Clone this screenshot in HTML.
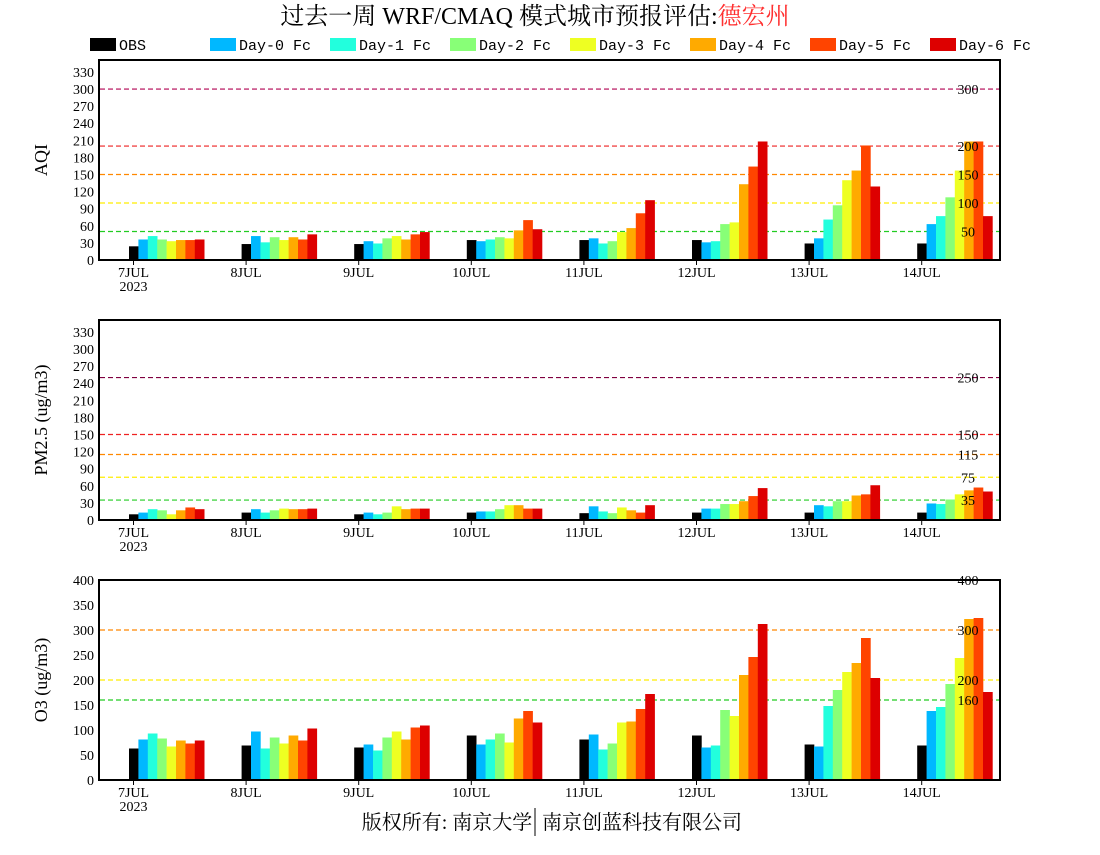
<!DOCTYPE html>
<html><head><meta charset="utf-8">
<style>
html,body{margin:0;padding:0;background:#fff;}
svg text{font-family:"Liberation Serif","Noto Serif CJK SC",serif;}
</style></head>
<body>
<svg id="c" width="1100" height="850" xmlns="http://www.w3.org/2000/svg">
<text x="535" y="24" text-anchor="middle" font-size="24" fill="#000">过去一周 WRF/CMAQ 模式城市预报评估:<tspan fill="#ff3030">德宏州</tspan></text>
<g id="legend"></g>
<g id="panels"></g>
<text x="447" y="829" text-anchor="middle" font-size="20">版权所有: 南京大学</text>
<line x1="535" y1="808" x2="535" y2="836" stroke="#000" stroke-width="1"></line>
<text x="642" y="829" text-anchor="middle" font-size="20">南京创蓝科技有限公司</text>
</svg>
<script>
const series = ["OBS","Day-0 Fc","Day-1 Fc","Day-2 Fc","Day-3 Fc","Day-4 Fc","Day-5 Fc","Day-6 Fc"];
const colors = ["#000000","#00b8ff","#22ffdd","#88ff77","#eeff22","#ffaa00","#ff4400","#dd0000"];
const days = ["7JUL","8JUL","9JUL","10JUL","11JUL","12JUL","13JUL","14JUL"];
const aqiObs = [24,28,28,35,35,35,29,29];
const aqiD0 = [36,42,33,33,38,31,38,63];
const aqiD1 = [42,31,29,36,29,33,71,77];
const aqiD2 = [36,40,38,40,33,63,96,110];
const aqiD3 = [33,35,42,38,49,66,140,157];
const aqiD4 = [35,40,36,52,56,133,157,208];
const aqiD5 = [35,36,45,70,82,164,201,208];
const aqiD6 = [36,45,49,54,105,208,129,77];
const pmObs = [10,13,10,13,12,13,13,13];
const pmD0 = [13,19,13,15,24,20,26,29];
const pmD1 = [19,13,10,15,15,20,24,28];
const pmD2 = [17,17,13,19,12,28,33,36];
const pmD3 = [10,20,24,26,22,28,33,45];
const pmD4 = [17,19,19,26,17,33,43,52];
const pmD5 = [22,19,20,20,13,42,45,57];
const pmD6 = [19,20,20,20,26,56,61,50];
const o3Obs = [63,69,65,89,81,89,71,69];
const o3D0 = [81,97,71,71,91,65,67,138];
const o3D1 = [93,63,59,81,61,69,148,146];
const o3D2 = [83,85,85,93,73,140,180,192];
const o3D3 = [67,73,97,75,115,128,216,244];
const o3D4 = [79,89,81,123,117,210,234,322];
const o3D5 = [73,79,105,138,142,246,284,324];
const o3D6 = [79,103,109,115,172,312,204,176];
const aqiTicks = [0,30,60,90,120,150,180,210,240,270,300,330];
const pmTicks = [0,30,60,90,120,150,180,210,240,270,300,330];
const o3Ticks = [0,50,100,150,200,250,300,350,400];
const aqiLines = [50,100,150,200,300];
const pmLines = [35,75,115,150,250];
const o3Lines = [160,200,300,400];
const aqiLineColors = ["#22cc22","#ffee00","#ff8800","#ee2222","#b00050"];
const pmLineColors = ["#22cc22","#ffee00","#ff8800","#ee2222","#800040"];
const o3LineColors = ["#22cc22","#ffee00","#ff8800","#ee2222"];

const NS="http://www.w3.org/2000/svg";
function mk(tag, attrs, parent){const e=document.createElementNS(NS,tag);for(const k in attrs)e.setAttribute(k,attrs[k]);parent.appendChild(e);return e;}
const leg=document.getElementById('legend');
series.forEach((s,i)=>{
  const x=90+i*120;
  const r=mk('rect',{x:x,y:38,width:26,height:13,fill:colors[i]},leg);
  
  
  const t=mk('text',{x:x+29,y:50,'font-size':15},leg);
  t.style.fontFamily='"Liberation Mono",monospace';
  t.textContent=s;
  
  
});

const X0=100,X1=1000,T0=133.5,DAY=112.6,BW=9.4;
function xDay(i){return T0+i*DAY;}
function panel(name,top,bottom,vmax,ticks,lines,lcols,data,title){
  const g=mk('g',{},document.getElementById('panels'));
  
  
  const y=v=>bottom-(bottom-top)*v/vmax;
  lines.forEach((v,i)=>{
    const l=mk('line',{x1:X0,x2:X1,y1:y(v),y2:y(v),stroke:lcols[i],'stroke-width':1.2,'stroke-dasharray':'5,3'},g);
    
    
  });
  data.forEach((arr,s)=>{
    arr.forEach((v,d)=>{
      const r=mk('rect',{x:xDay(d)-4.5+s*BW,y:y(v),width:BW+0.3,height:bottom-y(v),fill:colors[s]},g);
      
      
    });
  });
  lines.forEach((v,i)=>{
    const t=mk('text',{x:968,y:y(v)+5,'text-anchor':'middle','font-size':14},g);
    t.textContent=v;
    
    
  });
  const fr=mk('rect',{x:X0-1,y:top,width:X1-X0+1,height:bottom-top,fill:'none',stroke:'#000','stroke-width':2},g);
  
  
  ticks.forEach(v=>{
    const t=mk('text',{x:94,y:y(v)+5,'text-anchor':'end','font-size':14},g);
    t.textContent=v;
    
    
  });
  days.forEach((d,i)=>{
    mk('line',{x1:xDay(i),x2:xDay(i),y1:bottom,y2:bottom+5,stroke:'#000'},g);
    const t=mk('text',{x:xDay(i),y:bottom+17,'text-anchor':'middle','font-size':14},g);
    t.textContent=d;
    
    
  });
  const yr=mk('text',{x:xDay(0),y:bottom+31,'text-anchor':'middle','font-size':14},g);
  yr.textContent='2023';
  
  
  const cy=(top+bottom)/2;
  const at=mk('text',{x:47,y:cy,'text-anchor':'middle','font-size':18,transform:'rotate(-90 47 '+cy+')'},g);
  at.textContent=title;
  
  
}
panel('aqi',60,260,351,aqiTicks,aqiLines,aqiLineColors,[aqiObs,aqiD0,aqiD1,aqiD2,aqiD3,aqiD4,aqiD5,aqiD6],'AQI');
panel('pm25',320,520,351,pmTicks,pmLines,pmLineColors,[pmObs,pmD0,pmD1,pmD2,pmD3,pmD4,pmD5,pmD6],'PM2.5 (ug/m3)');
panel('o3',580,780,400,o3Ticks,o3Lines,o3LineColors,[o3Obs,o3D0,o3D1,o3D2,o3D3,o3D4,o3D5,o3D6],'O3 (ug/m3)');
</script>
</body></html>
